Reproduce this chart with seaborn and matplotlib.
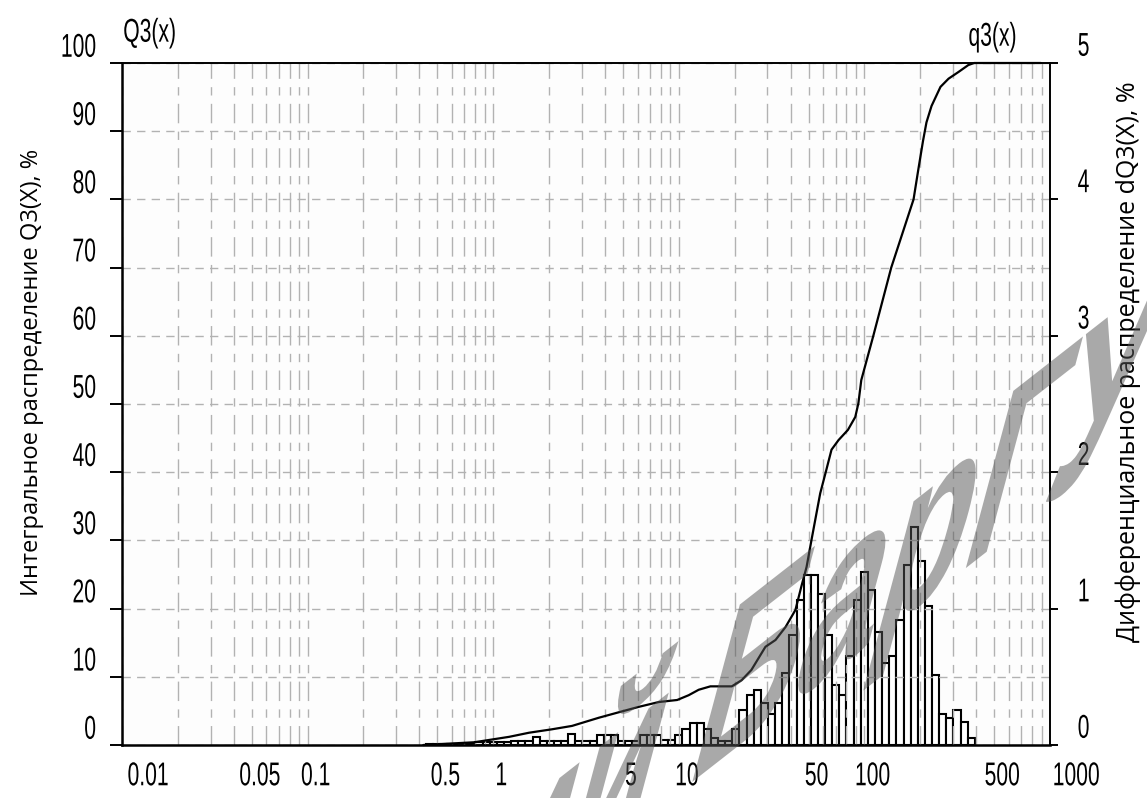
import numpy as np
import pandas as pd
import matplotlib
matplotlib.use("Agg")
import matplotlib.pyplot as plt
import matplotlib.transforms as mtransforms
from matplotlib.transforms import Affine2D
from matplotlib.path import Path
from matplotlib.patheffects import AbstractPathEffect
from matplotlib.ticker import FixedLocator
import seaborn as sns

# ---------------- data ----------------
# geometric size classes of the instrument (µm)
class_min = 0.432
class_max = 393.7
n_classes = 77

# differential distribution q3 per class (right axis)
q3_values = [0.01, 0.01, 0.01, 0.01, 0.01, 0.01, 0.01,
             0.025, 0.025, 0.025, 0.025, 0.025,
             0.03, 0.03, 0.03, 0.06, 0.03, 0.03, 0.03, 0.03, 0.08, 0.03, 0.03, 0.03,
             0.07, 0.07, 0.07, 0.03, 0.03, 0.03, 0.07, 0.07, 0.07, 0.035, 0.035, 0.07,
             0.12, 0.16, 0.16, 0.12, 0.05, 0.03, 0.03, 0.12, 0.26, 0.37, 0.40, 0.31,
             0.23, 0.31, 0.53, 0.81, 1.06, 1.25, 1.25, 1.11, 0.81, 0.44, 0.37, 0.65,
             1.06, 1.27, 1.14, 0.83, 0.60, 0.65, 0.92, 1.32, 1.60, 1.35, 1.02, 0.51,
             0.23, 0.20, 0.26, 0.17, 0.05]

# cumulative distribution Q3 (left axis)
cum_x = [0.42, 0.79, 1.22, 1.56, 2.07, 2.66, 3.71, 4.75, 6.1, 7.8, 9.8,
         11.3, 12.8, 14.8, 19.3, 21.8, 24.6, 29.3, 33.2, 37.6, 42.5,
         45.7, 48.8, 51.9, 55.2, 57.8, 62.3, 66.5, 72.5, 81.5, 89.3,
         92.8, 96.2, 111.7, 139.5, 184, 195, 207, 216, 230, 257,
         284, 322, 363, 390, 894]
cum_Q = [0, 0.4, 1.2, 1.8, 2.3, 2.8, 4.0, 4.8, 5.6, 6.3, 6.6,
         7.3, 8.1, 8.6, 8.6, 9.5, 11.0, 14.4, 15.4, 17.3, 19.8,
         23.2, 26.1, 30.1, 34.0, 36.9, 40.3, 43.3, 44.7, 46.2, 48.1,
         50.1, 53.5, 60, 70, 80, 84.3, 88.6, 91.3, 93.7, 96.5,
         97.7, 98.7, 99.7, 100, 100]

x_ticks = [0.01, 0.05, 0.1, 0.5, 1, 5, 10, 50, 100, 500, 1000]
x_ticklabels = ["0.01", "0.05", "0.1", "0.5", "1", "5", "10", "50", "100", "500", "1000"]
left_ticks = [0, 10, 20, 30, 40, 50, 60, 70, 80, 90, 100]
right_ticks = [0, 1, 2, 3, 4, 5]

left_title = "Интегральное распределение Q3(X), %"
right_title = "Дифференциальное распределение dQ3(X), %"
watermark = "Репозиторий БарГУ"


# ---------------- helpers ----------------
def _bounds(tpath):
    v = tpath.vertices
    if tpath.codes is not None:
        v = v[tpath.codes != Path.CLOSEPOLY]
    if len(v) == 0:
        return 0, 0, 0, 0
    return v[:, 0].min(), v[:, 0].max(), v[:, 1].min(), v[:, 1].max()


class Squeeze(AbstractPathEffect):
    """Narrow, tall glyphs like the bitmap font of the instrument software."""
    def __init__(self, sx, sy, fx=0.5, fy=0.5):
        super().__init__()
        self.sx, self.sy, self.fx, self.fy = sx, sy, fx, fy

    def draw_path(self, renderer, gc, tpath, affine, rgbFace=None):
        x0, x1, y0, y1 = _bounds(tpath)
        cx = x0 + self.fx * (x1 - x0)
        cy = y0 + self.fy * (y1 - y0)
        t = Affine2D().translate(-cx, -cy).scale(self.sx, self.sy).translate(cx, cy) + affine
        renderer.draw_path(gc, tpath, t, rgbFace)


class Skew(AbstractPathEffect):
    """Baseline along base_deg, glyph verticals along up_deg, pivot at the line end."""
    def __init__(self, base_deg, up_deg, su=1.0, sv=1.0):
        super().__init__()
        b, a = np.deg2rad(base_deg), np.deg2rad(up_deg)
        self.m = np.array([[su * np.cos(b), sv * np.cos(a), 0],
                           [su * np.sin(b), sv * np.sin(a), 0],
                           [0, 0, 1]])

    def draw_path(self, renderer, gc, tpath, affine, rgbFace=None):
        x0, x1, y0, y1 = _bounds(tpath)
        t = (Affine2D().translate(-x1, 0) + Affine2D(self.m) +
             Affine2D().translate(x1, 0) + affine)
        renderer.draw_path(gc, tpath, t, rgbFace)


# ---------------- style ----------------
sns.set_style("white")
plt.rcParams['font.family'] = ['Liberation Sans', 'DejaVu Sans']
plt.rcParams['lines.scale_dashes'] = False
plt.rcParams['text.color'] = 'black'
plt.rcParams['axes.edgecolor'] = 'black'
plt.rcParams['xtick.color'] = 'black'
plt.rcParams['ytick.color'] = 'black'

W, H = 1147, 798
fig = plt.figure(figsize=(W / 100, H / 100), dpi=100)
ax = fig.add_axes([122 / W, 1 - 745 / H, 928 / W, 682 / H])
ax.set_xscale('log')
ax2 = ax.twinx()
ax.set_zorder(3)
ax2.set_zorder(2)
ax.patch.set_visible(False)
ax2.patch.set_visible(True)
ax2.patch.set_facecolor('#fdfdfd')

# histogram (right axis)
edges = np.geomspace(class_min, class_max, n_classes + 1)
centers = np.sqrt(edges[:-1] * edges[1:])
df_bins = pd.DataFrame({"size": centers, "q3": q3_values})
sns.histplot(data=df_bins, x="size", weights="q3", bins=list(np.log10(edges)),
             log_scale=True, ax=ax2, stat="count", element="bars", fill=True,
             color="white", edgecolor="black", linewidth=1.5, alpha=1)

# cumulative line (left axis)
df_cum = pd.DataFrame({"x": cum_x, "Q": cum_Q})
sns.lineplot(data=df_cum, x="x", y="Q", ax=ax, color="black", linewidth=1.6,
             clip_on=False, sort=True)

ax.set_xlim(0.01, 1000)
ax.set_ylim(0, 100)
ax2.set_ylim(0, 5)
ax.set_xlabel("")
ax.set_ylabel("")
ax2.set_ylabel("")

# ticks
ax.set_xticks(x_ticks)
ax.set_xticklabels(x_ticklabels)
minor = []
for d in range(-2, 3):
    for k in range(1, 10):
        v = k * 10.0 ** d
        if not any(abs(v - t) / t < 1e-6 for t in x_ticks):
            minor.append(v)
ax.xaxis.set_minor_locator(FixedLocator(minor))
ax.set_yticks(left_ticks)
ax.set_yticklabels([str(t) for t in left_ticks])
ax2.set_yticks(right_ticks)
ax2.set_yticklabels([str(t) for t in right_ticks])

ax.tick_params(axis='x', which='major', direction='out', length=8, width=1.4,
               labelsize=19, pad=4)
ax.tick_params(axis='x', which='minor', length=0)
ax.tick_params(axis='y', which='major', direction='out', length=8.6, width=1.4,
               labelsize=19, pad=10, left=True)
ax2.tick_params(axis='y', which='major', direction='out', length=5.8, width=1.4,
                labelsize=19, pad=14, right=True)

# grid
grid_col = '#b2b2b2'
ax.set_axisbelow(True)
ax.grid(which='both', axis='x', color=grid_col, linewidth=1.0,
        linestyle=(0, (14, 6, 6, 6)))
ax.grid(which='major', axis='y', color=grid_col, linewidth=1.0,
        linestyle=(0, (6, 4.5)))

# spines
for s in ['left', 'bottom']:
    ax.spines[s].set_linewidth(1.8)
for s in ['top', 'right']:
    ax.spines[s].set_linewidth(1.4)
for s in ax2.spines.values():
    s.set_visible(False)


# tick label placement like the original software
def shift(lab, dx, dy):
    lab.set_transform(lab.get_transform() +
                      mtransforms.ScaledTranslation(dx / 100, dy / 100, fig.dpi_scale_trans))

SX, SY = 0.8, 1.25
for lab in ax.get_yticklabels():
    shift(lab, 0, 18)
    lab.set_path_effects([Squeeze(SX, SY, fx=1.0, fy=0.5)])
for lab in ax2.get_yticklabels():
    shift(lab, 0, 19)
    lab.set_path_effects([Squeeze(SX, SY, fx=0.0, fy=0.5)])
for lab, txt in zip(ax.get_xticklabels(), x_ticklabels):
    dx = 8
    if txt in ("0.01", "1000"):
        dx = 26
    shift(lab, dx, 0)
    lab.set_path_effects([Squeeze(SX, SY, fx=0.5, fy=1.0)])

# headers and titles
fig.text(123 / W, 1 - 33 / H, "Q3(x)", ha='left', va='center', fontsize=19,
         path_effects=[Squeeze(SX, SY, fx=0.0, fy=0.5)])
fig.text(1017 / W, 1 - 37 / H, "q3(x)", ha='right', va='center', fontsize=19,
         path_effects=[Squeeze(SX, SY, fx=1.0, fy=0.5)])
fig.text(32 / W, 1 - 372 / H, left_title, rotation=90, ha='center', va='center',
         fontsize=17, family=['Open Sans', 'DejaVu Sans'])
fig.text(1128 / W, 1 - 362 / H, right_title, rotation=90, ha='center', va='center',
         fontsize=18, family=['Open Sans', 'DejaVu Sans'])

# repository watermark (slanted diagonal text)
fig.text(1128 / W, 1 - 440 / H, watermark, rotation=0, ha='right', va='baseline',
         fontsize=132.5, fontweight='bold', color='#555555', alpha=0.5,
         family=['Liberation Sans', 'DejaVu Sans'], zorder=10,
         path_effects=[Skew(38, 75, su=1.0, sv=1.45)])

fig.savefig("out.png", dpi=100)
